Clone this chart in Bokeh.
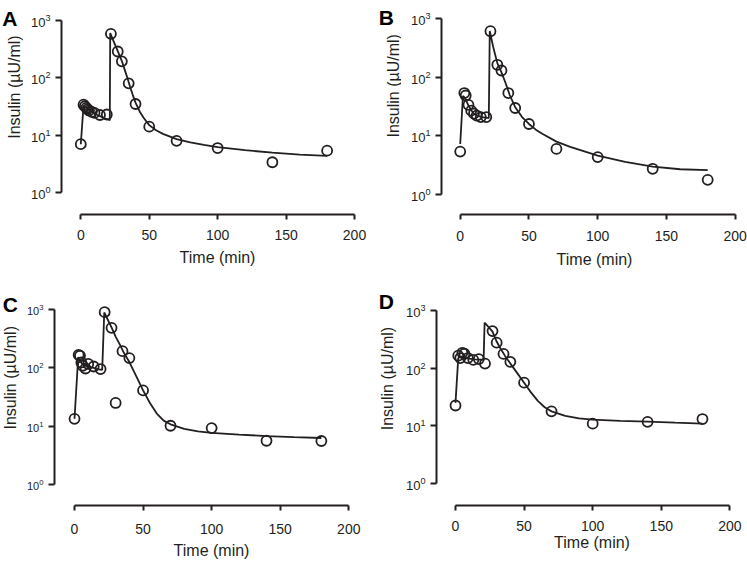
import math
from bokeh.plotting import figure
from bokeh.layouts import row, column
from bokeh.models import Range1d, FixedTicker
from bokeh.core.properties import value
from bokeh.embed import file_html
from bokeh.resources import INLINE

# ---------------- data ----------------
x_ticks = [0, 50, 100, 150, 200]
y_ticks = [1, 10, 100, 1000]
x_label = "Time (min)"
y_label = "Insulin (µU/ml)"
letters = ["A", "B", "C", "D"]

# Panel A
A_t = [0, 2, 3, 4, 5, 6, 8, 10, 14, 19, 22, 27, 30, 35, 40, 50, 70, 100, 140, 180]
A_y = [7.0, 34, 32, 30, 28.5, 27, 25.5, 24.5, 22.5, 23, 580, 286, 193, 80, 35, 14.1, 8.0, 6.0, 3.4, 5.4]
A_ct = [0, 2, 3, 4, 6, 8, 10, 12, 14, 16, 18, 20, 21.2, 21.5, 24, 26, 28, 30, 32, 34, 36, 38, 40,
        43, 46, 50, 55, 60, 70, 80, 90, 100, 120, 140, 160, 180]
A_cy = [7, 33, 32, 30.5, 28, 26, 24, 22.5, 21.5, 20.5, 19.5, 18.8, 18.3, 600, 430, 330, 255, 195, 140,
        100, 70, 50, 37, 26, 20, 15, 12.2, 10.6, 8.6, 7.5, 6.8, 6.2, 5.5, 5.0, 4.6, 4.4]

# Panel B
B_t = [0, 3, 4, 6, 8, 10, 12, 15, 19, 22, 27, 30, 35, 40, 50, 70, 100, 140, 180]
B_y = [5.4, 54, 49, 34, 27, 24, 22.3, 21, 21, 614, 164, 131, 54, 30, 16, 6.0, 4.35, 2.75, 1.78]
B_ct = [0, 2, 3, 4, 6, 8, 10, 12, 14, 16, 18, 20, 20.8, 21.5, 24, 27, 30, 33, 36, 40, 45, 50,
        55, 60, 70, 80, 100, 120, 140, 160, 180]
B_cy = [7.3, 48, 46, 42, 33, 27.5, 24, 22.5, 21.5, 21, 20.5, 20.3, 20.2, 620, 330, 175, 122, 80, 50,
        31, 21, 16, 12.8, 10.8, 8.0, 6.5, 4.6, 3.6, 3.0, 2.7, 2.6]

# Panel C
C_t = [0, 3, 4, 5, 6, 8, 10, 14, 19, 22, 27, 30, 35, 40, 50, 70, 100, 140, 180]
C_y = [13.4, 166, 160, 123, 108, 97, 116, 105, 95, 889, 481, 25, 192, 146, 41, 10.2, 9.3, 5.65, 5.6]
C_ct = [0, 2.7, 4, 6, 8, 10, 12, 14, 16, 18, 20.2, 21.7, 24, 27, 30, 33, 36, 40, 45, 50, 55, 60,
        65, 70, 80, 90, 100, 120, 140, 160, 180]
C_cy = [13.4, 152, 128, 115, 109, 105, 102, 99, 96, 94, 92, 880, 680, 490, 340, 250, 180, 125, 72,
        41, 25, 16.5, 12.5, 10.8, 9.0, 8.2, 7.7, 7.2, 6.8, 6.5, 6.3]

# Panel D
D_t = [0, 2, 3.5, 5, 6.5, 9, 13, 17, 21.5, 27, 30, 35, 40, 50, 70, 100, 140, 180]
D_y = [22.5, 165, 150, 185, 178, 150, 139, 144, 120, 441, 277, 177, 129, 56, 17.8, 10.9, 11.7, 13.1]
D_ct = [0, 2, 4, 6, 8, 10, 14, 18, 20.5, 21.2, 24, 27, 30, 33, 36, 40, 45, 50, 55, 60, 65, 70,
        80, 90, 100, 120, 140, 160, 180]
D_cy = [25, 150, 158, 155, 150, 146, 142, 141, 140, 615, 520, 430, 290, 215, 165, 120, 82, 56, 38,
        27, 21, 17.8, 14.8, 13.5, 12.8, 12.2, 11.8, 11.3, 10.9]

# ---------------- styling / layout ----------------
FONT = "Liberation Sans"
INK = "#231f20"


def strip(letter, ws, h, letter_x, letter_base, lab_x, lab_y):
    """Narrow side column carrying the panel letter and the y-axis title."""
    s = figure(width=ws, height=h, x_range=Range1d(0, ws), y_range=Range1d(h, 0),
               output_backend="svg", toolbar_location=None,
               x_axis_location=None, y_axis_location=None,
               min_border=0)
    s.outline_line_color = None
    s.grid.visible = False
    s.text(x=[letter_x], y=[letter_base], text=[letter], text_font=value(FONT),
           text_font_size="21px", text_font_style="bold", text_color="black",
           text_align="left", text_baseline="alphabetic")
    s.text(x=[lab_x], y=[lab_y], text=[y_label], angle=math.pi / 2,
           text_font=value(FONT), text_font_size="16px", text_color=INK,
           text_align="center", text_baseline="middle")
    return s


def main(t, y, ct, cy, w, h, left, right, top, bottom,
         px_per_min, x0_off, dec_px, y3, ytick_size, xstd, xlabstd):
    frame_w = w - left - right
    frame_h = h - top - bottom
    x_start = -x0_off / px_per_min
    x_end = x_start + frame_w / px_per_min
    y_hi = 3 + (y3 - top) / dec_px
    y_lo = y_hi - frame_h / dec_px
    p = figure(width=w, height=h,
               x_range=Range1d(x_start, x_end),
               y_range=Range1d(10 ** y_lo, 10 ** y_hi),
               y_axis_type="log", output_backend="svg", toolbar_location=None,
               min_border_left=left, min_border_right=right,
               min_border_top=top, min_border_bottom=bottom)
    p.outline_line_color = None
    p.xgrid.visible = False
    p.ygrid.visible = False

    p.line(ct, cy, line_color=INK, line_width=1.8)
    p.scatter(t, y, marker="circle", size=10, fill_color=None,
              line_color=INK, line_width=1.8)

    xa = p.xaxis[0]
    ya = p.yaxis[0]
    xa.ticker = FixedTicker(ticks=x_ticks)
    ya.ticker = FixedTicker(ticks=y_ticks)
    xa.bounds = (0, 200)
    ya.bounds = (1, 1000)
    for ax in (xa, ya):
        ax.axis_line_width = 2
        ax.axis_line_color = INK
        ax.major_tick_line_width = 2
        ax.major_tick_line_color = INK
        ax.major_tick_in = 0
        ax.minor_tick_line_color = None
        ax.major_label_text_font = FONT
        ax.major_label_text_color = INK
        ax.axis_label_text_font = FONT
        ax.axis_label_text_font_size = "16px"
        ax.axis_label_text_font_style = "normal"
        ax.axis_label_text_color = INK
    xa.major_label_text_font_size = "14px"
    ya.major_label_text_font_size = ytick_size
    xa.major_tick_out = 5
    ya.major_tick_out = 6
    xa.major_label_standoff = xstd
    ya.major_label_standoff = 5
    xa.axis_label = x_label
    xa.axis_label_standoff = xlabstd
    return p


H1, H2 = 282, 282
WL, WR = 373, 374

# panel A
sA = strip(letters[0], 23, H1, 1.7, 20.7, 14.0, 112.5)
pA = main(A_t, A_y, A_ct, A_cy, WL - 23, H1, 38, 0, 2, 65,
          1.3685, 19.3, 58.33, 20.0, "13px", 10, 6)
# panel B
sB = strip(letters[1], 28, H1, 5.2, 20.0, 19.5, 110.8)
pB = main(B_t, B_y, B_ct, B_cy, WR - 28, H1, 40, 0, 2, 68,
          1.375, 18.7, 58.57, 18.3, "13px", 11, 7)
# panel C
sC = strip(letters[2], 21, H2, 2.3, 25.7, 9.5, 119.0)
pC = main(C_t, C_y, C_ct, C_cy, WL - 21, H2, 33, 5, 2, 59,
          1.3715, 20.0, 58.53, 26.7, "11px", 13, 5)
# panel D
sD = strip(letters[3], 24, H2, 5.2, 21.7, 13.7, 120.0)
pD = main(D_t, D_y, D_ct, D_cy, WR - 24, H2, 39, 0, 2, 57,
          1.372, 19.0, 58.13, 28.3, "13px", 10, 0)

layout = column(row(sA, pA, sB, pB), row(sC, pC, sD, pD))

open("out.html", "w").write(file_html(layout, INLINE))
